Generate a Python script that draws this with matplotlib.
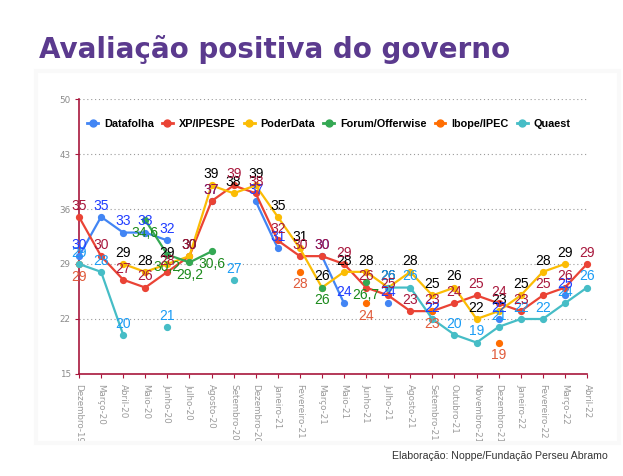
import numpy as np
import matplotlib
matplotlib.use('Agg')
import matplotlib.pyplot as plt
from matplotlib.lines import Line2D
from matplotlib.patches import Rectangle

nan = np.nan

meses = ['Dezembro-19', 'Março-20', 'Abril-20', 'Maio-20', 'Junho-20', 'Julho-20',
         'Agosto-20', 'Setembro-20', 'Dezembro-20', 'Janeiro-21', 'Fevereiro-21',
         'Março-21', 'Maio-21', 'Junho-21', 'Julho-21', 'Agosto-21', 'Setembro-21',
         'Outubro-21', 'Novembro-21', 'Dezembro-21', 'Janeiro-22', 'Fevereiro-22',
         'Março-22', 'Abril-22']

datafolha = [30, 35, 33, 33, 32, nan, 37, nan, 37, 31, nan, 30,
             24, nan, 24, nan, 22, nan, nan, 22, nan, nan, 25, nan]
xp_ipespe = [35, 30, 27, 26, 28, 30, 37, 39, 38, 32, 30, 30,
             29, 26, 25, 23, 23, 24, 25, 24, 23, 25, 26, 29]
poderdata = [nan, nan, 29, 28, 29, 30, 39, 38, 39, 35, 31, 26,
             28, 28, 26, 28, 25, 26, 22, 23, 25, 28, 29, nan]
forum = [nan, nan, nan, 34.6, 30.2, 29.2, 30.6, nan, nan, nan, nan, 26,
         nan, 26.7, nan, nan, nan, nan, nan, nan, nan, nan, nan, nan]
ibope = [29, nan, nan, nan, nan, nan, nan, nan, nan, nan, 28, nan,
         nan, 24, nan, nan, 23, nan, nan, 19, nan, nan, nan, nan]
quaest = [29, 28, 20, nan, 21, nan, nan, 27, nan, nan, nan, nan,
          nan, nan, 26, 26, 22, 20, 19, 21, 22, 22, 24, 26]

# (nome, valores, cor da linha, cor do rótulo, rótulo acima?, ordem do rótulo)
series = [
    ('Datafolha', datafolha, '#4285F4', '#1f3cff', True, 6),
    ('XP/IPESPE', xp_ipespe, '#EA4335', '#a8173c', True, 7),
    ('PoderData', poderdata, '#FBBC04', '#000000', True, 5),
    ('Forum/Offerwise', forum, '#34A853', '#1b8a1b', False, 5),
    ('Ibope/IPEC', ibope, '#FF6D01', '#e05a3a', False, 5),
    ('Quaest', quaest, '#46BDC6', '#1a9cf5', True, 5),
]

fig = plt.figure(figsize=(6.23, 4.76), dpi=100)
fig.patch.set_facecolor('white')

# moldura bem clara em volta do gráfico
fig.patches.append(Rectangle((0.058, 0.07), 0.935, 0.78, transform=fig.transFigure,
                             fill=False, edgecolor='#f9f9f9', linewidth=3, zorder=0))

ax = fig.add_axes([0.1268, 0.2143, 0.8154, 0.5777])
x = np.arange(len(meses))

for nome, vals, cor, cor_rot, acima, zr in series:
    v = np.array(vals, dtype=float)
    ax.plot(x, v, color=cor, lw=1.6, marker='o', ms=4.2, zorder=3, clip_on=False)
    for xi, yi in zip(x, v):
        if np.isnan(yi):
            continue
        txt = f'{yi:g}'.replace('.', ',')
        if acima:
            ax.annotate(txt, (xi, yi), xytext=(0, 3), textcoords='offset points',
                        ha='center', va='bottom', fontsize=10, color=cor_rot,
                        family='Liberation Sans', zorder=zr)
        else:
            ax.annotate(txt, (xi, yi), xytext=(0, -4), textcoords='offset points',
                        ha='center', va='top', fontsize=10, color=cor_rot,
                        family='Liberation Sans', zorder=zr)

ax.set_xlim(0, len(meses) - 1)
ax.set_ylim(15, 50)
ax.set_yticks([15, 22, 29, 36, 43, 50])
ax.set_xticks(x)
ax.set_xticklabels(meses, rotation=270, fontsize=6.3, color='#9a9a9a')
ax.tick_params(axis='x', length=3, color='#a8173c', pad=4)
ax.tick_params(axis='y', length=3, color='#a8173c', labelsize=6.3, labelcolor='#8a8a8a', pad=3)

for y in [22, 29, 36, 43, 50]:
    ax.axhline(y, color='#9a9a9a', lw=0.8, ls=(0, (1, 2.5)), zorder=1)

for s in ['top', 'right']:
    ax.spines[s].set_visible(False)
for s in ['left', 'bottom']:
    ax.spines[s].set_color('#a8173c')
    ax.spines[s].set_linewidth(1.2)

handles = [Line2D([0], [0], color=s[2], lw=2, marker='o', ms=5) for s in series]
ax.legend(handles, [s[0] for s in series], loc='center', bbox_to_anchor=(0.492, 0.909),
          ncol=6, frameon=False, handlelength=1.0, handletextpad=0.55, columnspacing=0.75,
          prop={'family': 'Liberation Sans', 'weight': 'bold', 'size': 7.8})

fig.text(0.062, 0.895, 'Avaliação positiva do governo', fontsize=20, fontweight='heavy',
         color='#5b3a8e', family='DejaVu Sans', va='center')
fig.text(0.975, 0.042, 'Elaboração: Noppe/Fundação Perseu Abramo', fontsize=7.6,
         color='#333333', family='Liberation Sans', ha='right', va='center')

fig.savefig('out.png', dpi=100)
